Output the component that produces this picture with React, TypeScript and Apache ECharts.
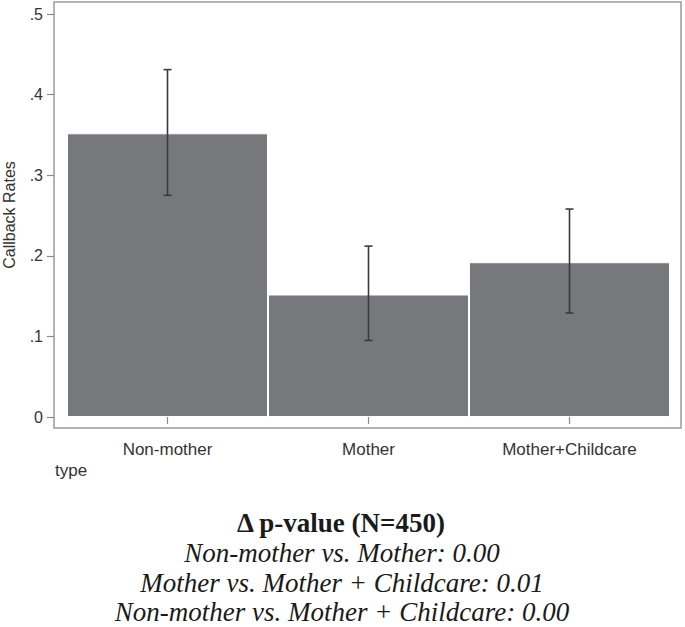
import React, { useEffect, useRef } from "react";
import * as echarts from "echarts";

const categories = ["Non-mother", "Mother", "Mother+Childcare"];
const rates = [0.352, 0.152, 0.192];
const ciLow = [0.275, 0.095, 0.129];
const ciHigh = [0.431, 0.212, 0.258];
const yTicks = [0, 0.1, 0.2, 0.3, 0.4, 0.5];
const noteTitle = "Δ p-value (N=450)";
const noteLines = [
  "Non-mother vs. Mother: 0.00",
  "Mother vs. Mother + Childcare: 0.01",
  "Non-mother vs. Mother + Childcare: 0.00",
];

export default function App() {
  const ref = useRef<HTMLDivElement>(null);
  useEffect(() => {
    if (!ref.current) return;
    const chart = echarts.init(ref.current, undefined, { renderer: "svg" });
    const sans = "'Liberation Sans', Arial, sans-serif";
    const serif = "'Liberation Serif', 'Times New Roman', serif";
    const errData = categories.map((c, i) => [i, ciLow[i], ciHigh[i]]);
    chart.setOption({
      animation: false,
      backgroundColor: "#ffffff",
      grid: { left: 67, right: 15, top: 14, bottom: 210, containLabel: false },
      xAxis: {
        type: "category",
        data: categories,
        offset: 11,
        axisLine: { show: false },
        axisTick: {
          show: true,
          alignWithLabel: true,
          length: 7,
          lineStyle: { color: "#8a8a8a", width: 1.2 },
        },
        axisLabel: { margin: 13, fontFamily: sans, fontSize: 17, color: "#333" },
      },
      yAxis: {
        type: "value",
        min: 0,
        max: 0.5,
        interval: 0.1,
        offset: 13,
        splitLine: { show: false },
        axisLine: { show: false },
        axisTick: { show: true, length: 7, lineStyle: { color: "#8a8a8a", width: 1.2 } },
        axisLabel: {
          margin: 11,
          fontFamily: sans,
          fontSize: 16,
          color: "#333",
          formatter: (v: number) => {
            const t = yTicks.find((x) => Math.abs(x - v) < 1e-9);
            const val = t === undefined ? v : t;
            if (val === 0) return "0";
            return val.toFixed(1).replace(/^0/, "");
          },
        },
      },
      graphic: [
        {
          type: "rect",
          shape: { x: 54, y: 2, width: 627, height: 426 },
          style: { fill: "none", stroke: "#9a9a9a", lineWidth: 1.5 },
          silent: true,
          z: 0,
        },
        {
          type: "text",
          x: 9,
          y: 215,
          rotation: Math.PI / 2,
          style: {
            text: "Callback Rates",
            font: `16px ${sans}`,
            fill: "#333",
            align: "center",
            verticalAlign: "middle",
          },
        },
        {
          type: "text",
          x: 55,
          y: 470,
          style: {
            text: "type",
            font: `17px ${sans}`,
            fill: "#333",
            align: "left",
            verticalAlign: "middle",
          },
        },
        {
          type: "text",
          x: 341,
          y: 523,
          style: {
            text: noteTitle,
            font: `bold 27px ${serif}`,
            fill: "#1a1a1a",
            align: "center",
            verticalAlign: "middle",
          },
        },
        ...noteLines.map((t, i) => ({
          type: "text",
          x: 342,
          y: 553 + i * 29.5,
          style: {
            text: t,
            font: `italic 27px ${serif}`,
            fill: "#1a1a1a",
            align: "center",
            verticalAlign: "middle",
          },
        })),
      ],
      series: [
        {
          type: "bar",
          data: rates,
          barCategoryGap: "0%",
          itemStyle: { color: "#77787c", borderColor: "#ffffff", borderWidth: 1 },
          z: 2,
        },
        {
          type: "custom",
          data: errData,
          z: 3,
          renderItem: (params: any, api: any) => {
            const x = api.value(0);
            const lo = api.coord([x, api.value(1)]);
            const hi = api.coord([x, api.value(2)]);
            const cap = 4;
            const style = { stroke: "#3a3a3a", lineWidth: 1.6 };
            return {
              type: "group",
              children: [
                { type: "line", shape: { x1: lo[0], y1: lo[1], x2: hi[0], y2: hi[1] }, style },
                { type: "line", shape: { x1: lo[0] - cap, y1: lo[1], x2: lo[0] + cap, y2: lo[1] }, style },
                { type: "line", shape: { x1: hi[0] - cap, y1: hi[1], x2: hi[0] + cap, y2: hi[1] }, style },
              ],
            };
          },
        },
      ],
    });
    return () => chart.dispose();
  }, []);
  return (
    <div
      ref={ref}
      style={{ position: "fixed", left: 0, top: 0, width: 685, height: 627 }}
    />
  );
}
